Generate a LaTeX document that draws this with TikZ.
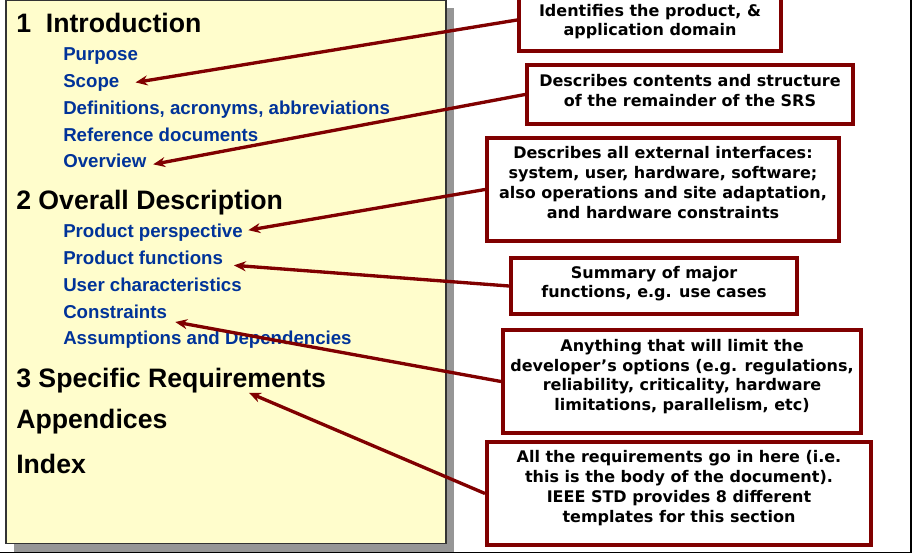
\documentclass[tikz,border=0pt]{standalone}
\usepackage{fontspec}
\setmainfont{Liberation Sans}
\newfontfamily\notefont{DejaVu Sans}
\usetikzlibrary{arrows.meta}
\definecolor{srsred}{RGB}{128,0,0}
\definecolor{srsblue}{RGB}{0,51,153}
\definecolor{srspaper}{RGB}{255,253,204}
\definecolor{srsshadow}{RGB}{150,150,150}

\begin{document}
\begin{tikzpicture}[
            x=0.75pt, y=-0.75pt,
            every node/.append style={inner sep=0pt},
            heading/.style={anchor=base west, font=\fontsize{20}{24}\selectfont\bfseries},
            item/.style={anchor=base west, text=srsblue, font=\fontsize{14}{17}\selectfont\bfseries},
            note/.style={draw=srsred, line width=3pt, fill=white, align=center,
                font=\notefont\bfseries\fontsize{12}{14.8}\selectfont},
            pointer/.style={srsred, line width=2.5pt, -{Stealth[length=9pt,width=7.5pt]}}
        ]
            \useasboundingbox (0,0) rectangle (922,557);
            % frame and outline page
            \draw[line width=1.1pt] (0,552.5) -- (911,552.5) -- (911,0);
            \fill[srsshadow] (14,8) rectangle (454,551.5);
            \draw[fill=srspaper, draw=black!80, line width=1.1pt] (6,0.5) rectangle (446,543.5);

            \node[heading] (intro) at (16,32) {1~~Introduction};
            \node[item] (purpose) at (63,60) {Purpose};
            \node[item] (scope) at (63,87) {Scope};
            \node[item] (defs) at (63,114) {Definitions, acronyms, abbreviations};
            \node[item] (refs) at (63,141) {Reference documents};
            \node[item] (overview) at (63,167) {Overview};
            \node[heading] (overall) at (16,209) {2 Overall Description};
            \node[item] (persp) at (63,237) {Product perspective};
            \node[item] (funcs) at (63,264) {Product functions};
            \node[item] (users) at (63,291) {User characteristics};
            \node[item] (constr) at (63,318) {Constraints};
            \node[item] (assum) at (63,344) {Assumptions and Dependencies};
            \node[heading] (specific) at (16,387) {3 Specific Requirements};
            \node[heading] (append) at (16,428) {Appendices};
            \node[heading] (index) at (16,473) {Index};

            % notes on the right
            \node[note, minimum width=196.5pt, minimum height=46.5pt, text depth=0pt] (n1) at (650,20)
                {Identifies the product, \&\\application domain};
            \node[note, minimum width=244.5pt, minimum height=44.25pt, text depth=6pt] (n2) at (690,94.5)
                {Describes contents and structure\\of the remainder of the SRS};
            \node[note, minimum width=264pt, minimum height=77.25pt, text depth=10.5pt] (n3) at (663,189.5)
                {Describes all external interfaces:\\system, user, hardware, software;\\also operations and site adaptation,\\and hardware constraints};
            \node[note, minimum width=214.5pt, minimum height=42pt, text depth=6pt] (n4) at (654,286)
                {Summary of major\\functions, e.g. use cases};
            \node[note, minimum width=268.5pt, minimum height=77.25pt, text depth=9.75pt] (n5) at (682,381.5)
                {Anything that will limit the\\developer’s options (e.g. regulations,\\reliability, criticality, hardware\\limitations, parallelism, etc)};
            \node[note, minimum width=288pt, minimum height=77.25pt, text depth=10.5pt] (n6) at (679,493.5)
                {All the requirements go in here (i.e.\\this is the body of the document).\\IEEE STD provides 8 different\\templates for this section};

            \draw[pointer] (n1.west) -- ([xshift=12pt]scope.east);
            \draw[pointer] (n2.west) -- ([xshift=5pt,yshift=-3pt]overview.east);
            \draw[pointer] (n3.west) -- ([xshift=4pt,yshift=1.5pt]persp.east);
            \draw[pointer] (n4.west) -- ([xshift=8pt,yshift=-6pt]funcs.east);
            \draw[pointer] (n5.west) -- ([xshift=6pt,yshift=-8pt]constr.east);
            \draw[pointer] (n6.west) -- ([xshift=-58pt]specific.south east);
        \end{tikzpicture}
\end{document}
